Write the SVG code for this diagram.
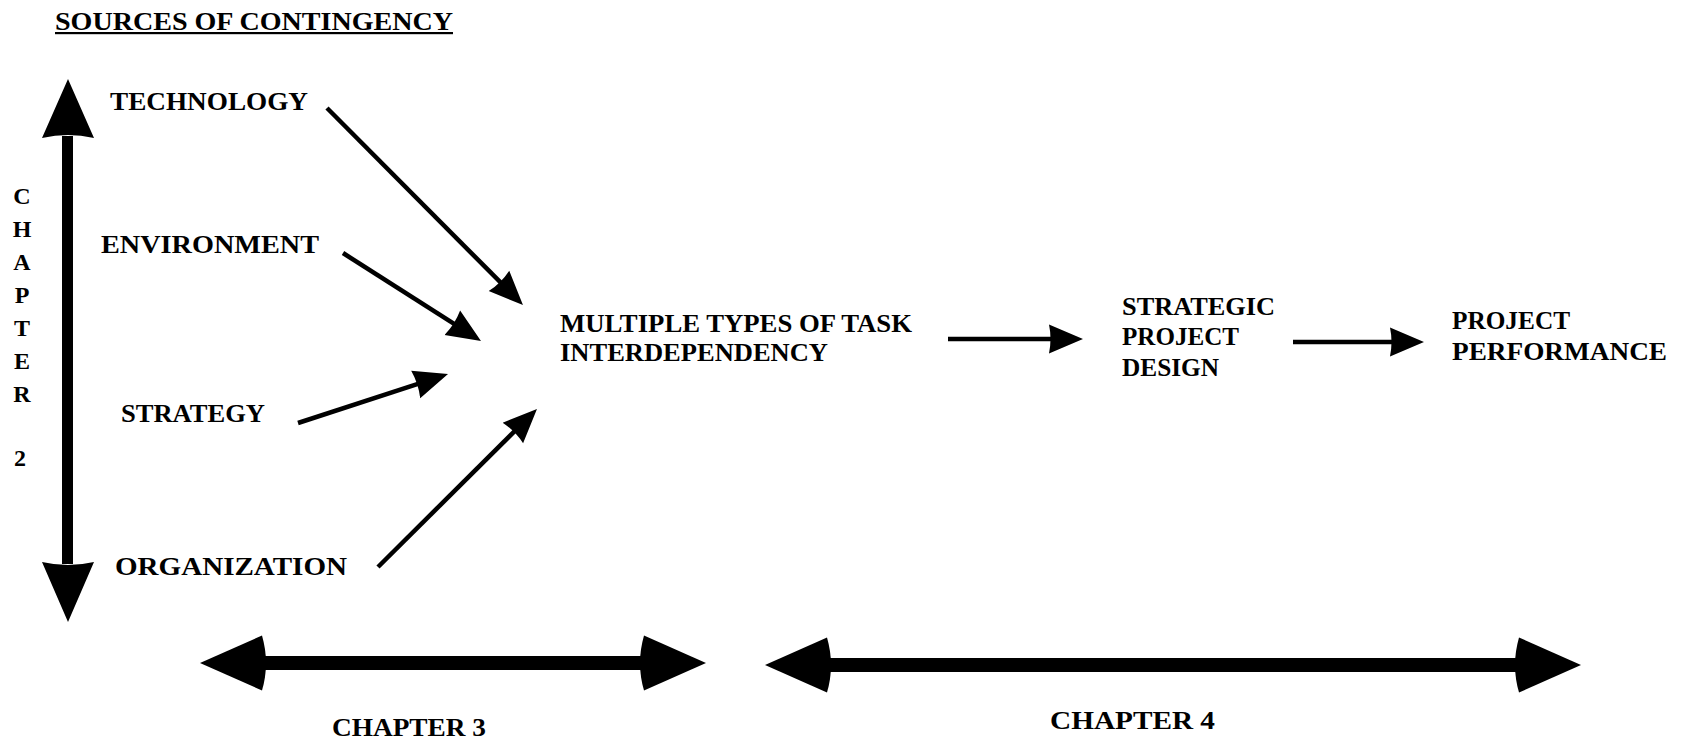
<svg xmlns="http://www.w3.org/2000/svg" width="1689" height="742" viewBox="0 0 1689 742">
  <style>
    .lbl { font-family: "Liberation Serif", "Times New Roman", serif; font-weight: bold; font-size: 26px; fill: #000; }
    .vert { font-family: "Liberation Serif", "Times New Roman", serif; font-weight: bold; font-size: 24px; fill: #000; text-anchor: middle; }
    .shaft { stroke: #000; stroke-width: 4.5; fill: none; }
    .big { fill: #000; }
  </style>
  <defs>
    <marker id="head" markerUnits="userSpaceOnUse" markerWidth="40" markerHeight="32" viewBox="0 -16 40 32" refX="4" refY="0" orient="auto">
      <path d="M0,-14.5 L34,0 L0,14.5 Q3,0 0,-14.5 Z" fill="#000"/>
    </marker>
  </defs>
  <rect width="1689" height="742" fill="#fff"/>

  <!-- heading -->
  <g id="title">
    <text class="lbl" x="55" y="30" textLength="398" lengthAdjust="spacingAndGlyphs">SOURCES OF CONTINGENCY</text>
    <rect x="55" y="32" width="398" height="2.2" fill="#000"/>
  </g>

  <!-- contingency sources -->
  <g id="technology"><text class="lbl" x="110" y="110" textLength="198" lengthAdjust="spacingAndGlyphs">TECHNOLOGY</text></g>
  <g id="environment"><text class="lbl" x="101" y="253" textLength="218" lengthAdjust="spacingAndGlyphs">ENVIRONMENT</text></g>
  <g id="strategy"><text class="lbl" x="121" y="422" textLength="144" lengthAdjust="spacingAndGlyphs">STRATEGY</text></g>
  <g id="organization"><text class="lbl" x="115" y="575" textLength="232" lengthAdjust="spacingAndGlyphs">ORGANIZATION</text></g>

  <!-- central concepts -->
  <g id="interdependency">
    <text class="lbl" x="560" y="332" textLength="352" lengthAdjust="spacingAndGlyphs">MULTIPLE TYPES OF TASK</text>
    <text class="lbl" x="560" y="361" textLength="268" lengthAdjust="spacingAndGlyphs">INTERDEPENDENCY</text>
  </g>
  <g id="design">
    <text class="lbl" x="1122" y="315" textLength="153" lengthAdjust="spacingAndGlyphs">STRATEGIC</text>
    <text class="lbl" x="1122" y="345" textLength="117" lengthAdjust="spacingAndGlyphs">PROJECT</text>
    <text class="lbl" x="1122" y="376" textLength="97" lengthAdjust="spacingAndGlyphs">DESIGN</text>
  </g>
  <g id="performance">
    <text class="lbl" x="1452" y="329" textLength="118" lengthAdjust="spacingAndGlyphs">PROJECT</text>
    <text class="lbl" x="1452" y="360" textLength="215" lengthAdjust="spacingAndGlyphs">PERFORMANCE</text>
  </g>

  <!-- chapter spans -->
  <g id="chapter2">
    <path class="big" d="M68,79 L94,138 Q68,132 42,138 Z"/>
    <rect class="big" x="62" y="136" width="11" height="428"/>
    <path class="big" d="M68,622 L94,562 Q68,568 42,562 Z"/>
    <text class="vert" x="22" y="204">C</text>
    <text class="vert" x="22" y="237">H</text>
    <text class="vert" x="22" y="270">A</text>
    <text class="vert" x="22" y="303">P</text>
    <text class="vert" x="22" y="336">T</text>
    <text class="vert" x="22" y="369">E</text>
    <text class="vert" x="22" y="402">R</text>
    <text class="vert" x="20" y="466">2</text>
  </g>
  <g id="chapter3">
    <path class="big" d="M200,663 L262,635.5 Q270,663 262,690.5 Z"/>
    <rect class="big" x="260" y="656" width="386" height="14"/>
    <path class="big" d="M706,663 L644,635.5 Q636,663 644,690.5 Z"/>
    <text class="lbl" x="332" y="736" textLength="154" lengthAdjust="spacingAndGlyphs">CHAPTER 3</text>
  </g>
  <g id="chapter4">
    <path class="big" d="M765,665 L827,637.5 Q835,665 827,692.5 Z"/>
    <rect class="big" x="825" y="658" width="696" height="14"/>
    <path class="big" d="M1581,665 L1519,637.5 Q1511,665 1519,692.5 Z"/>
    <text class="lbl" x="1050" y="729" textLength="165" lengthAdjust="spacingAndGlyphs">CHAPTER 4</text>
  </g>

  <!-- connectors -->
  <g id="connectors">
    <line class="shaft" x1="327" y1="108" x2="501.8" y2="283.7" marker-end="url(#head)"/>
    <line class="shaft" x1="343" y1="253" x2="455.7" y2="324.9" marker-end="url(#head)"/>
    <line class="shaft" x1="298" y1="423" x2="419.5" y2="383.3" marker-end="url(#head)"/>
    <line class="shaft" x1="378" y1="567" x2="515.7" y2="430.1" marker-end="url(#head)"/>
    <line class="shaft" x1="948" y1="339" x2="1053" y2="339" stroke-width="3.5" marker-end="url(#head)"/>
    <line class="shaft" x1="1293" y1="342" x2="1394" y2="342" stroke-width="3.5" marker-end="url(#head)"/>
  </g>
</svg>
